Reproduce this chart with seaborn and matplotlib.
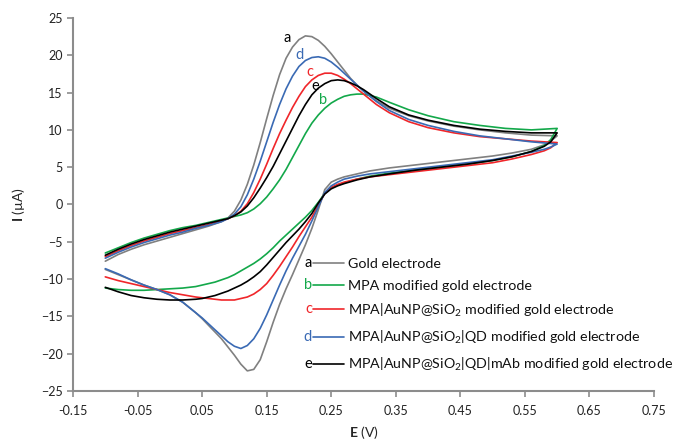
import matplotlib
matplotlib.use("Agg")
import matplotlib.pyplot as plt
from matplotlib.lines import Line2D
import seaborn as sns
import pandas as pd

# =====================================================
# DATA
# =====================================================
# forward (anodic) sweep potentials, V
E_fwd = [-0.1, -0.08, -0.06, -0.04, -0.02, 0.0, 0.02, 0.04, 0.06, 0.08,
         0.09, 0.10, 0.11, 0.12, 0.13, 0.14, 0.15, 0.16, 0.17, 0.18, 0.19,
         0.20, 0.21, 0.22, 0.23, 0.24, 0.25, 0.26, 0.27, 0.28, 0.29, 0.30,
         0.32, 0.34, 0.37, 0.40, 0.44, 0.48, 0.52, 0.56, 0.60]
# reverse (cathodic) sweep potentials, V
E_rev = [0.60, 0.59, 0.58, 0.56, 0.53, 0.50, 0.46, 0.42, 0.38, 0.34, 0.31,
         0.29, 0.27, 0.26, 0.25, 0.24, 0.23, 0.22, 0.21, 0.20, 0.19, 0.18,
         0.17, 0.16, 0.15, 0.14, 0.13, 0.12, 0.11, 0.10, 0.09, 0.08, 0.07,
         0.06, 0.05, 0.04, 0.02, 0.0, -0.02, -0.04, -0.06, -0.08, -0.1]

# currents, uA
a_fwd = [-7.6, -6.7, -6.0, -5.4, -4.9, -4.4, -3.9, -3.4, -2.9, -2.3,
         -1.8, -0.9, 0.6, 2.7, 5.3, 8.3, 11.5, 14.6, 17.4, 19.6, 21.1,
         22.1, 22.6, 22.5, 22.0, 21.2, 20.2, 19.1, 18.0, 16.9, 16.0, 15.2,
         13.9, 12.9, 11.9, 11.2, 10.5, 10.0, 9.6, 9.3, 9.2]
a_rev = [9.2, 8.5, 8.0, 7.4, 6.9, 6.5, 6.1, 5.7, 5.3, 4.9, 4.5,
         4.1, 3.7, 3.4, 3.0, 2.0, -0.7, -3.2, -5.4, -7.4, -9.4, -11.3,
         -13.4, -15.8, -18.4, -20.8, -22.1, -22.3, -21.4, -20.2, -19.1, -18.0, -17.1,
         -16.2, -15.3, -14.5, -13.1, -12.1, -11.4, -10.8, -10.1, -9.4, -8.7]

b_fwd = [-6.5, -5.8, -5.1, -4.5, -4.0, -3.5, -3.1, -2.8, -2.4, -2.0,
         -1.8, -1.6, -1.4, -1.1, -0.6, 0.1, 1.0, 2.1, 3.3, 4.7, 6.3,
         7.9, 9.5, 10.9, 12.0, 12.9, 13.6, 14.1, 14.5, 14.7, 14.8, 14.8,
         14.4, 13.7, 12.7, 11.9, 11.1, 10.6, 10.2, 10.0, 10.2]
b_rev = [10.2, 8.7, 7.9, 7.1, 6.4, 5.9, 5.4, 5.0, 4.6, 4.2, 3.8,
         3.4, 2.9, 2.6, 2.2, 1.5, 0.3, -0.8, -1.7, -2.5, -3.3, -4.1,
         -4.9, -5.8, -6.6, -7.3, -7.9, -8.4, -8.9, -9.4, -9.8, -10.1, -10.4,
         -10.6, -10.8, -11.0, -11.2, -11.3, -11.4, -11.5, -11.5, -11.4, -11.2]

c_fwd = [-7.0, -6.2, -5.5, -4.9, -4.4, -3.9, -3.5, -3.1, -2.7, -2.2,
         -1.9, -1.5, -0.9, 0.1, 1.6, 3.4, 5.4, 7.5, 9.5, 11.3, 13.0,
         14.5, 15.8, 16.7, 17.3, 17.6, 17.6, 17.3, 16.8, 16.2, 15.5, 14.8,
         13.4, 12.3, 11.1, 10.3, 9.6, 9.1, 8.8, 8.5, 8.3]
c_rev = [8.3, 7.6, 7.2, 6.7, 6.1, 5.6, 5.2, 4.8, 4.4, 4.0, 3.7,
         3.4, 3.0, 2.7, 2.3, 1.5, -0.1, -1.7, -3.0, -4.3, -5.7, -7.0,
         -8.3, -9.5, -10.6, -11.4, -12.0, -12.4, -12.6, -12.8, -12.8, -12.8, -12.7,
         -12.6, -12.5, -12.4, -12.1, -11.8, -11.4, -11.0, -10.6, -10.2, -9.7]

d_fwd = [-7.2, -6.4, -5.7, -5.1, -4.6, -4.1, -3.7, -3.2, -2.8, -2.3,
         -1.9, -1.3, -0.3, 1.3, 3.4, 5.8, 8.4, 11.0, 13.4, 15.5, 17.2,
         18.5, 19.3, 19.7, 19.8, 19.6, 19.1, 18.4, 17.6, 16.8, 16.0, 15.2,
         13.8, 12.6, 11.4, 10.6, 9.8, 9.2, 8.8, 8.4, 8.1]
d_rev = [8.1, 7.7, 7.4, 7.0, 6.5, 6.0, 5.6, 5.2, 4.8, 4.4, 4.1,
         3.8, 3.4, 3.0, 2.5, 1.6, -0.3, -2.2, -4.0, -5.6, -7.2, -8.9,
         -10.8, -12.8, -14.8, -16.6, -18.0, -18.9, -19.3, -19.0, -18.4, -17.6, -16.8,
         -16.0, -15.2, -14.5, -13.1, -12.1, -11.4, -10.8, -10.1, -9.3, -8.6]

e_fwd = [-6.8, -6.0, -5.3, -4.7, -4.2, -3.7, -3.3, -2.9, -2.5, -2.1,
         -1.9, -1.5, -1.0, -0.2, 0.9, 2.2, 3.6, 5.1, 6.8, 8.5, 10.2,
         11.9, 13.4, 14.7, 15.6, 16.2, 16.6, 16.7, 16.6, 16.3, 15.9, 15.4,
         14.2, 13.1, 12.0, 11.3, 10.6, 10.1, 9.8, 9.6, 9.6]
e_rev = [9.6, 8.4, 7.8, 7.1, 6.4, 5.9, 5.4, 5.0, 4.6, 4.1, 3.7,
         3.3, 2.8, 2.5, 2.1, 1.4, 0.2, -1.2, -2.3, -3.3, -4.2, -5.1,
         -6.1, -7.1, -8.1, -9.0, -9.7, -10.3, -10.8, -11.2, -11.6, -11.9, -12.2,
         -12.4, -12.6, -12.7, -12.8, -12.8, -12.7, -12.5, -12.2, -11.7, -11.1]

curves = ["a", "b", "c", "d", "e"]
labels = [
    "Gold electrode",
    "MPA modified gold electrode",
    "MPA|AuNP@SiO$_2$ modified gold electrode",
    "MPA|AuNP@SiO$_2$|QD modified gold electrode",
    "MPA|AuNP@SiO$_2$|QD|mAb modified gold electrode",
]
fwd = {"a": a_fwd, "b": b_fwd, "c": c_fwd, "d": d_fwd, "e": e_fwd}
rev = {"a": a_rev, "b": b_rev, "c": c_rev, "d": d_rev, "e": e_rev}

# letter tags next to the anodic peaks (E, I)
tag_E = [0.181, 0.237, 0.217, 0.201, 0.226]
tag_I = [22.3, 14.0, 17.75, 20.0, 15.9]

# =====================================================
# STYLE
# =====================================================
sns.set_style("ticks")
plt.rcParams.update({
    "font.family": ["Lato", "DejaVu Sans"],
    "mathtext.fontset": "custom",
    "mathtext.rm": "Lato",
    "mathtext.bf": "Lato:bold",
    "font.size": 9,
})

line_colors = {"a": "#808080", "b": "#13a84a", "c": "#f0262a",
               "d": "#3a6ab4", "e": "#000000"}
tag_colors = {"a": "#000000", "b": "#13a84a", "c": "#f0262a",
              "d": "#3a6ab4", "e": "#000000"}
axis_gray = "#8c8c8c"

rows = []
for k in curves:
    n = 0
    for E, I in zip(E_fwd + E_rev, fwd[k] + rev[k]):
        rows.append({"curve": k, "step": n, "E": E, "I": I})
        n += 1
df = pd.DataFrame(rows)

fig = plt.figure(figsize=(6.78, 4.45), dpi=100)
ax = fig.add_axes([0.1077, 0.1213, 0.8569, 0.8383])

sns.lineplot(data=df, x="E", y="I", hue="curve", palette=line_colors,
             sort=False, estimator=None, units="curve", legend=False,
             linewidth=1.2, ax=ax)

# peak tags
for k, x, y in zip(curves, tag_E, tag_I):
    ax.text(x, y, k, color=tag_colors[k], fontsize=10.5,
            ha="center", va="center")

# =====================================================
# AXES
# =====================================================
ax.set_xlim(-0.15, 0.75)
ax.set_ylim(-25, 25)
ax.set_xticks([-0.15 + 0.1 * i for i in range(10)])
ax.set_xticklabels([f"{-0.15 + 0.1 * i:.2f}" for i in range(10)])
ax.set_yticks(range(-25, 26, 5))
ax.tick_params(axis="both", direction="out", length=4, width=1.2,
               color=axis_gray, labelsize=9, labelcolor="#222222")
ax.tick_params(axis="x", pad=6)
for side in ["left", "bottom"]:
    ax.spines[side].set_color(axis_gray)
    ax.spines[side].set_linewidth(1.5)
sns.despine(ax=ax)

ax.set_xlabel(r"$\mathbf{E}$ (V)", fontsize=10, labelpad=5)
ax.set_ylabel(r"$\mathbf{I}$ (µA)", fontsize=10, labelpad=10)

# =====================================================
# LEGEND (letter - line - text)
# =====================================================
handles = [Line2D([], [], color=line_colors[k], linewidth=1.2) for k in curves]
leg = ax.legend(handles, labels, loc="upper left",
                bbox_to_anchor=(0.403, 0.372), frameon=False,
                handlelength=2.2, handletextpad=0.25, labelspacing=0.68,
                fontsize=10.3, borderaxespad=0)
for txt in leg.get_texts():
    txt.set_color("#111111")

fig.canvas.draw()
for k, h in zip(curves, leg.legend_handles):
    bb = h.get_window_extent()
    x0, yc = bb.x0, (bb.y0 + bb.y1) / 2
    fig.text(x0 - 1, yc, k, color=tag_colors[k], fontsize=10.5,
             ha="right", va="center", transform=None)

plt.savefig("out.png", dpi=100, facecolor="white")
plt.close()
